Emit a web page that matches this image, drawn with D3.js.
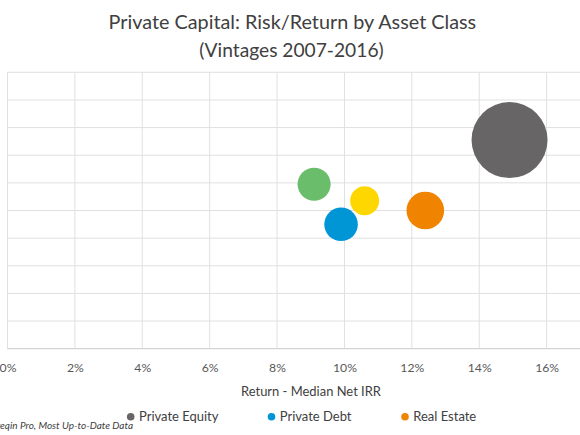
<!DOCTYPE html>
<html><head><meta charset="utf-8">
<script src="https://cdn.jsdelivr.net/npm/d3@7"></script>
<style>body{margin:0;background:#fff;overflow:hidden}svg{display:block;font-family:Lato,"Open Sans",sans-serif}</style>
</head><body>
<svg id="c" width="580" height="435"></svg>
<script>
const assetClasses = ["Private Equity","Natural Resources","Infrastructure","Private Debt","Real Estate"];
const returnIRR   = [14.9, 9.1, 10.6, 9.9, 12.4];   // x, %
const riskValues  = [15.1, 11.9, 10.7, 9.0, 10.0];  // y
const bubbleSize  = [100, 19, 14.5, 19.5, 24.5];
const colors      = ["#676566","#6abd6a","#ffd700","#0096d6","#f08300"];
const legendItems = ["Private Equity","Private Debt","Real Estate"];
const xGrid  = [0,2,4,6,8,10,12,14,16,18];
const xTicks = [0,2,4,6,8,10,12,14,16];
const yTicks = [0,2,4,6,8,10,12,14,16,18,20];

const svg = d3.select("#c");
const pLeft = 7.5, pRight = 614, pTop = 72.3, pBottom = 348.7;
const x = d3.scaleLinear().domain([0,18]).range([pLeft,pRight]);
const y = d3.scaleLinear().domain([0,20]).range([pBottom,pTop]);
const r = d3.scaleSqrt().domain([0,100]).range([0,38]);

function fit(sel, target, base){
  sel.attr("font-size", base);
  const w = sel.node().getComputedTextLength();
  const fs = base * target / w;
  sel.attr("font-size", fs);
  return fs;
}

// gridlines
svg.append("g").selectAll("line").data(xGrid).join("line")
  .attr("x1",d=>x(d)).attr("x2",d=>x(d)).attr("y1",pTop).attr("y2",pBottom)
  .attr("stroke","#e0e0e0").attr("stroke-width",1);
svg.append("g").selectAll("line").data(yTicks).join("line")
  .attr("x1",pLeft).attr("x2",pRight).attr("y1",d=>y(d)).attr("y2",d=>y(d))
  .attr("stroke",d=>d===0?"#d4d4d4":"#e0e0e0").attr("stroke-width",d=>d===0?1.3:1);

// x axis labels
const xa = svg.append("g").attr("transform",`translate(0,${pBottom})`)
  .call(d3.axisBottom(x).tickValues(xTicks).tickFormat(d=>d+"%").tickSize(0).tickPadding(15));
xa.select(".domain").remove();
const tickText = xa.selectAll("text").attr("fill","#595959").attr("font-family","Lato,sans-serif");
const tfs = fit(xa.selectAll("text").filter(d=>d===10), 24, 12);
tickText.attr("font-size", tfs);

// bubbles
const idx = d3.range(assetClasses.length).sort((a,b)=>bubbleSize[b]-bubbleSize[a]);
svg.append("g").selectAll("circle").data(idx).join("circle")
  .attr("cx",i=>x(returnIRR[i])).attr("cy",i=>y(riskValues[i]))
  .attr("r",i=>r(bubbleSize[i])).attr("fill",i=>colors[i]);

// titles
const t1 = svg.append("text").attr("x",292.4).attr("y",29).attr("text-anchor","middle")
  .attr("fill","#404040").text("Private Capital: Risk/Return by Asset Class");
fit(t1, 368, 18);
const t2 = svg.append("text").attr("x",291.5).attr("y",56.5).attr("text-anchor","middle")
  .attr("fill","#404040").text("(Vintages 2007-2016)");
fit(t2, 184.5, 18);

const at = svg.append("text").attr("x",311).attr("y",396).attr("text-anchor","middle")
  .attr("fill","#404040").text("Return - Median Net IRR");
fit(at, 140, 12);

// legend
const lx = [130.7,271.5,405];
const lg = svg.append("g").selectAll("g").data(legendItems).join("g")
  .attr("transform",(d,i)=>`translate(${lx[i]},416.7)`);
lg.append("circle").attr("r",3.8).attr("fill",d=>colors[assetClasses.indexOf(d)]);
const ltexts = lg.append("text").attr("x",8.3).attr("dy","0.35em").attr("fill","#404040").text(d=>d);
const lfs = fit(ltexts.filter(d=>d==="Private Equity"), 79.5, 12);
ltexts.attr("font-size", lfs);

// source note (partly outside the left edge, as in the reference)
const probe = svg.append("text").attr("font-style","italic").text("eqin Pro, Most Up-to-Date Data");
const sfs = fit(probe, 133, 9);
probe.remove();
svg.append("text").attr("y",428.5).attr("font-size",sfs).attr("font-style","italic")
  .attr("fill","#404040").attr("text-anchor","end").attr("x",133)
  .text("Source: Preqin Pro, Most Up-to-Date Data");
</script>
</body></html>
